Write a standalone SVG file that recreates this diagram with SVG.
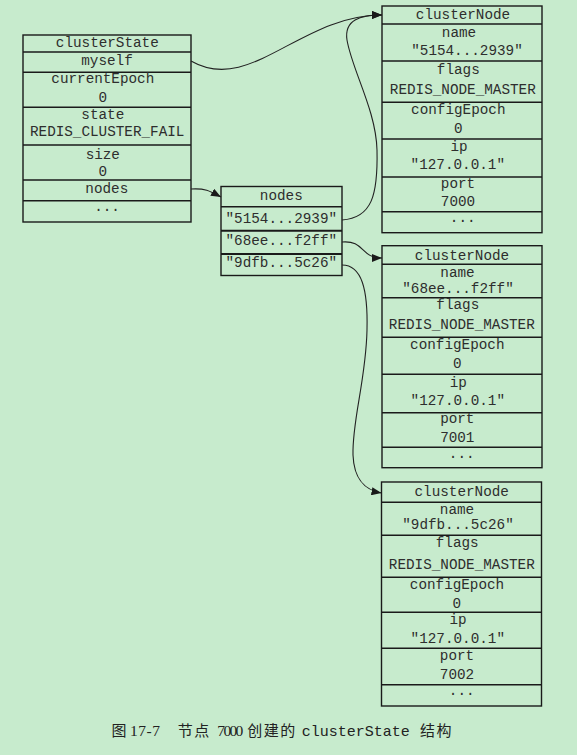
<svg xmlns="http://www.w3.org/2000/svg" width="577" height="755" viewBox="0 0 577 755">
<defs>
<marker id="arr" viewBox="0 0 10 8" refX="10" refY="4" markerWidth="10" markerHeight="8" markerUnits="userSpaceOnUse" orient="auto">
<path d="M0,0 L10,4 L0,8 Z" fill="#1a1a1a"/>
</marker>
<style>
.box{fill:none;stroke:#1a1a1a;stroke-width:1.4}
.sep{stroke:#1a1a1a;stroke-width:1.4}
.t{font-family:"Liberation Mono","DejaVu Sans Mono",monospace;font-size:14.3px;fill:#2e2e2e;text-anchor:middle}
.c{fill:none;stroke:#222;stroke-width:1.1}
.cap{font-size:15px;fill:#222}
.cjk{font-family:"Noto Sans CJK SC",sans-serif;letter-spacing:1.5px}
.num{font-family:"Liberation Serif",serif;font-size:15.5px}
</style>
</defs>
<rect width="577" height="755" fill="#c7ebcd"/>

<g id="clusterState">
<rect class="box" x="23" y="35" width="168" height="187"/>
<line class="sep" x1="23" y1="52" x2="191" y2="52"/>
<line class="sep" x1="23" y1="72.3" x2="191" y2="72.3"/>
<line class="sep" x1="23" y1="107.3" x2="191" y2="107.3"/>
<line class="sep" x1="23" y1="145" x2="191" y2="145"/>
<line class="sep" x1="23" y1="180" x2="191" y2="180"/>
<line class="sep" x1="23" y1="200.7" x2="191" y2="200.7"/>
<text class="t" x="107.3" y="47.3">clusterState</text>
<text class="t" x="107" y="65">myself</text>
<text class="t" x="102.8" y="82.5">currentEpoch</text>
<text class="t" x="102.8" y="101.7">0</text>
<text class="t" x="102.8" y="119">state</text>
<text class="t" x="107.2" y="135.5">REDIS_CLUSTER_FAIL</text>
<text class="t" x="102.8" y="159.3">size</text>
<text class="t" x="102.8" y="176">0</text>
<text class="t" x="106.8" y="193.3">nodes</text>
<text class="t" x="107" y="211">...</text>
</g>

<g id="nodesDict">
<rect class="box" x="221" y="186.5" width="121" height="89"/>
<line class="sep" x1="221" y1="206.7" x2="342" y2="206.7"/>
<line class="sep" x1="221" y1="230.7" x2="342" y2="230.7" style="stroke-width:2"/>
<line class="sep" x1="221" y1="254" x2="342" y2="254" style="stroke-width:2"/>
<text class="t" x="281.3" y="200">nodes</text>
<text class="t" x="281.3" y="222.7">"5154...2939"</text>
<text class="t" x="281.3" y="245">"68ee...f2ff"</text>
<text class="t" x="281.3" y="267">"9dfb...5c26"</text>
</g>

<g id="clusterNode7000">
<rect class="box" x="382" y="6" width="160" height="226.7"/>
<line class="sep" x1="382" y1="24" x2="542" y2="24"/>
<line class="sep" x1="382" y1="61" x2="542" y2="61"/>
<line class="sep" x1="382" y1="102.3" x2="542" y2="102.3"/>
<line class="sep" x1="382" y1="139" x2="542" y2="139"/>
<line class="sep" x1="382" y1="177" x2="542" y2="177"/>
<line class="sep" x1="382" y1="211.7" x2="542" y2="211.7"/>
<text class="t" x="463" y="19">clusterNode</text>
<text class="t" x="459" y="36.7">name</text>
<text class="t" x="467" y="55">"5154...2939"</text>
<text class="t" x="458.3" y="74">flags</text>
<text class="t" x="462.8" y="94.3">REDIS_NODE_MASTER</text>
<text class="t" x="458.3" y="113.7">configEpoch</text>
<text class="t" x="458.3" y="133.3">0</text>
<text class="t" x="459" y="150.5">ip</text>
<text class="t" x="457.8" y="169.3">"127.0.0.1"</text>
<text class="t" x="458" y="187.5">port</text>
<text class="t" x="458" y="206">7000</text>
<text class="t" x="462.7" y="222.3">...</text>
</g>

<g id="clusterNode7001">
<rect class="box" x="382" y="245.7" width="160" height="222"/>
<line class="sep" x1="382" y1="264.3" x2="542" y2="264.3"/>
<line class="sep" x1="382" y1="297.7" x2="542" y2="297.7"/>
<line class="sep" x1="382" y1="337.3" x2="542" y2="337.3"/>
<line class="sep" x1="382" y1="374.3" x2="542" y2="374.3"/>
<line class="sep" x1="382" y1="412.7" x2="542" y2="412.7"/>
<line class="sep" x1="382" y1="447.3" x2="542" y2="447.3"/>
<text class="t" x="462" y="260">clusterNode</text>
<text class="t" x="457.5" y="276.7">name</text>
<text class="t" x="458" y="292.7">"68ee...f2ff"</text>
<text class="t" x="457.8" y="309">flags</text>
<text class="t" x="461.8" y="329">REDIS_NODE_MASTER</text>
<text class="t" x="457.3" y="349">configEpoch</text>
<text class="t" x="457.3" y="368.3">0</text>
<text class="t" x="458.3" y="386.5">ip</text>
<text class="t" x="457.8" y="405">"127.0.0.1"</text>
<text class="t" x="457.3" y="422.5">port</text>
<text class="t" x="457.3" y="441.7">7001</text>
<text class="t" x="461.7" y="457.7">...</text>
</g>

<g id="clusterNode7002">
<rect class="box" x="381.5" y="482" width="160" height="224"/>
<line class="sep" x1="381.5" y1="502.3" x2="541.5" y2="502.3"/>
<line class="sep" x1="381.5" y1="535.3" x2="541.5" y2="535.3"/>
<line class="sep" x1="381.5" y1="577.3" x2="541.5" y2="577.3"/>
<line class="sep" x1="381.5" y1="612.3" x2="541.5" y2="612.3"/>
<line class="sep" x1="381.5" y1="648.3" x2="541.5" y2="648.3"/>
<line class="sep" x1="381.5" y1="684.7" x2="541.5" y2="684.7"/>
<text class="t" x="461.7" y="495.7">clusterNode</text>
<text class="t" x="457" y="514">name</text>
<text class="t" x="458" y="528.6">"9dfb...5c26"</text>
<text class="t" x="457.2" y="547">flags</text>
<text class="t" x="461.8" y="569">REDIS_NODE_MASTER</text>
<text class="t" x="457" y="589">configEpoch</text>
<text class="t" x="456.8" y="607.7">0</text>
<text class="t" x="458" y="624">ip</text>
<text class="t" x="457.8" y="642.7">"127.0.0.1"</text>
<text class="t" x="457" y="660">port</text>
<text class="t" x="457" y="679">7002</text>
<text class="t" x="461.7" y="695">...</text>
</g>

<g id="connectors">
<path class="c" d="M191,61 C250,95 300,15 382,15" marker-end="url(#arr)"/>
<path class="c" d="M342,220 C372,218 378,195 377,150 C376,110 352,70 347,40 C344,20 360,15 382,15" marker-end="url(#arr)"/>
<path class="c" d="M191,189 C205,188 210,191 221,197" marker-end="url(#arr)"/>
<path class="c" d="M342,242 C365,240 360,258 382,258" marker-end="url(#arr)"/>
<path class="c" d="M342,265 C362,265 368,290 367,330 C366,380 352,420 353,455 C354,480 365,490 381.5,493" marker-end="url(#arr)"/>
</g>

<g id="caption">
<text class="cap cjk" y="736" x="111.5">图</text>
<text class="cap num" y="736" x="130" textLength="30">17-7</text>
<text class="cap cjk" y="736" x="177.7">节点</text>
<text class="cap num" y="736" x="217.3" textLength="26">7000</text>
<text class="cap cjk" y="736" x="247.3">创建的</text>
<text class="cap" y="735.5" font-family="'Liberation Mono',monospace" x="301.7" font-size="15.5">clusterState</text>
<text class="cap cjk" y="736" x="420">结构</text>
</g>
</svg>
